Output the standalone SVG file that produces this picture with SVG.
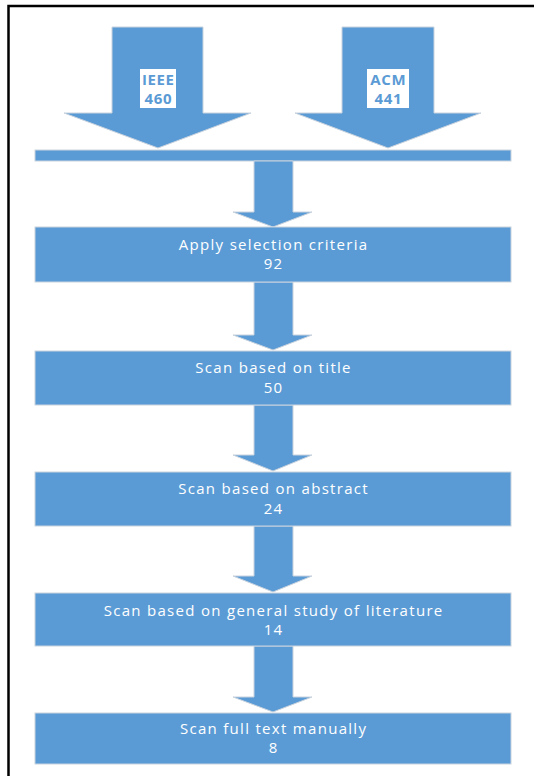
<svg xmlns="http://www.w3.org/2000/svg" width="534" height="776" viewBox="0 0 534 776">
<defs>
<style>
.shape{fill:#5b9bd5;stroke:#c9d3de;stroke-width:1}
.box{fill:#5b9bd5;stroke:#c9d3de;stroke-width:1}
.t{font-family:"Open Sans","Liberation Sans",sans-serif;font-size:15px;letter-spacing:1.3px;fill:#ffffff;text-anchor:middle}
.lbl{fill:#ffffff;stroke:none}
.lt{font-family:"Open Sans","Liberation Sans",sans-serif;font-size:15px;font-weight:bold;letter-spacing:0.6px;fill:#5b9bd5;text-anchor:middle}
</style>
</defs>
<rect x="0" y="0" width="534" height="776" fill="#ffffff"/>
<rect x="8.5" y="6" width="540" height="790" fill="none" stroke="#000000" stroke-width="2.5"/>
<g id="ieee">
<polygon class="shape" points="112,27 203,27 203,113 251,113 158,148 64,113 112,113"/>
<rect class="lbl" x="140" y="69" width="36" height="39"/>
<text class="lt" x="158.3" y="85">IEEE</text>
<text class="lt" x="158.3" y="104">460</text>
</g>
<g id="acm">
<polygon class="shape" points="342,27 434,27 434,113 481,113 388,148 295,113 342,113"/>
<rect class="lbl" x="367" y="69" width="42" height="39"/>
<text class="lt" x="388.3" y="85">ACM</text>
<text class="lt" x="388.3" y="104">441</text>
</g>
<g id="merge-bar">
<rect class="box" x="35" y="150" width="476" height="11"/>
</g>
<g id="connectors">
<polygon class="shape" points="254,161 293,161 293,212 312,212 273,227 233,212 254,212"/>
<polygon class="shape" points="254,282 293,282 293,335 312,335 273,350 233,335 254,335"/>
<polygon class="shape" points="254,405 293,405 293,455 312,455 273,471 233,455 254,455"/>
<polygon class="shape" points="254,526 293,526 293,576 312,576 273,592 233,576 254,576"/>
<polygon class="shape" points="254,646 293,646 293,697 312,697 273,712 233,697 254,697"/>
</g>
<g id="selection">
<rect class="box" x="35" y="227" width="476" height="55"/>
<text class="t" x="273.6" y="250">Apply selection criteria</text>
<text class="t" x="273.6" y="269">92</text>
</g>
<g id="title-scan">
<rect class="box" x="35" y="351" width="476" height="54"/>
<text class="t" x="273.6" y="373">Scan based on title</text>
<text class="t" x="273.6" y="393">50</text>
</g>
<g id="abstract-scan">
<rect class="box" x="35" y="472" width="476" height="54"/>
<text class="t" x="273.6" y="494">Scan based on abstract</text>
<text class="t" x="273.6" y="514">24</text>
</g>
<g id="general-scan">
<rect class="box" x="35" y="593" width="476" height="53"/>
<text class="t" x="273.6" y="616">Scan based on general study of literature</text>
<text class="t" x="273.6" y="635">14</text>
</g>
<g id="fulltext-scan">
<rect class="box" x="35" y="713" width="476" height="51"/>
<text class="t" x="273.6" y="734">Scan full text manually</text>
<text class="t" x="273.6" y="753">8</text>
</g>
</svg>
